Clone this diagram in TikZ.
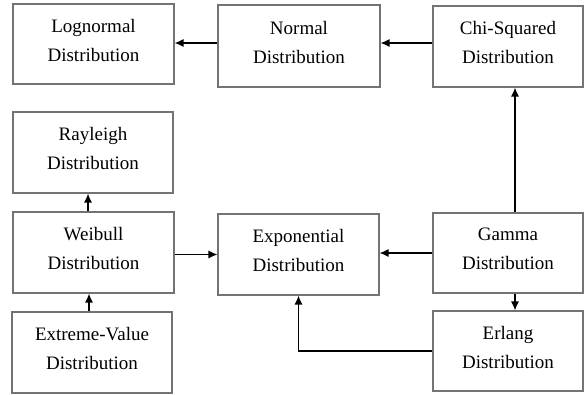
\documentclass[tikz,border=0pt]{standalone}
\usepackage{fontspec}
\setmainfont{Liberation Serif}
\usetikzlibrary{arrows.meta, calc}

\begin{document}
\begin{tikzpicture}[x=1pt,y=-1pt,
	dist/.style={rectangle,draw=black!55,line width=1.1pt,align=center,inner sep=0pt,text depth=8pt,font=\fontsize{19}{29}\selectfont},
	link/.style={-{Latex[length=9pt,width=8pt]},line width=1.2pt}]
	\useasboundingbox (0,0) rectangle (586,394);

		% top row
		\node[dist,minimum width=161pt,minimum height=80pt] (Logn) at (93.5,44) {Lognormal\\Distribution};
		\node[dist,minimum width=162pt,minimum height=82pt] (Normal) at (299,46) {Normal\\Distribution};
		\node[dist,minimum width=150pt,minimum height=81pt] (Chi) at (508,46.5) {Chi-Squared\\Distribution};

		% left column
		\node[dist,minimum width=160pt,minimum height=81pt] (Rayleigh) at (93,152.5) {Rayleigh\\Distribution};
		\node[dist,minimum width=161pt,minimum height=81pt] (Weibull) at (93.5,252.5) {Weibull\\Distribution};
		\node[dist,minimum width=160pt,minimum height=81pt] (Extreme) at (92,352.5) {Extreme-Value\\Distribution};

		% middle and right
		\node[dist,minimum width=161pt,minimum height=81pt] (Expo) at (298.5,254.5) {Exponential\\Distribution};
		\node[dist,minimum width=150pt,minimum height=80pt] (Gamma) at (508,253) {Gamma\\Distribution};
		\node[dist,minimum width=150pt,minimum height=80pt] (Erlang) at (508,351) {Erlang\\Distribution};

		\draw[link] ([yshift=3.5pt]Chi.west) -- ([yshift=3.5pt]Chi.west -| Normal.east);
		\draw[link] ([yshift=3pt]Normal.west) -- ([yshift=3pt]Normal.west -| Logn.east);
		\draw[link] ([xshift=7pt]Gamma.north) -- ([xshift=7pt]Gamma.north |- Chi.south);
		\draw[link] ([xshift=7pt]Gamma.south) -- ([xshift=7pt]Gamma.south |- Erlang.north);
		\draw[link] (Gamma.west) -- (Gamma.west -| Expo.east);
		\draw[link] (Weibull.east |- Expo.west) -- (Expo.west);
		\draw[link] (Erlang.west) -| (Expo.south);
		\draw[link] ([xshift=-5.5pt]Weibull.north) -- ([xshift=-5.5pt]Weibull.north |- Rayleigh.south);
		\draw[link] ([xshift=-3pt]Extreme.north) -- ([xshift=-3pt]Extreme.north |- Weibull.south);
\end{tikzpicture}
\end{document}
